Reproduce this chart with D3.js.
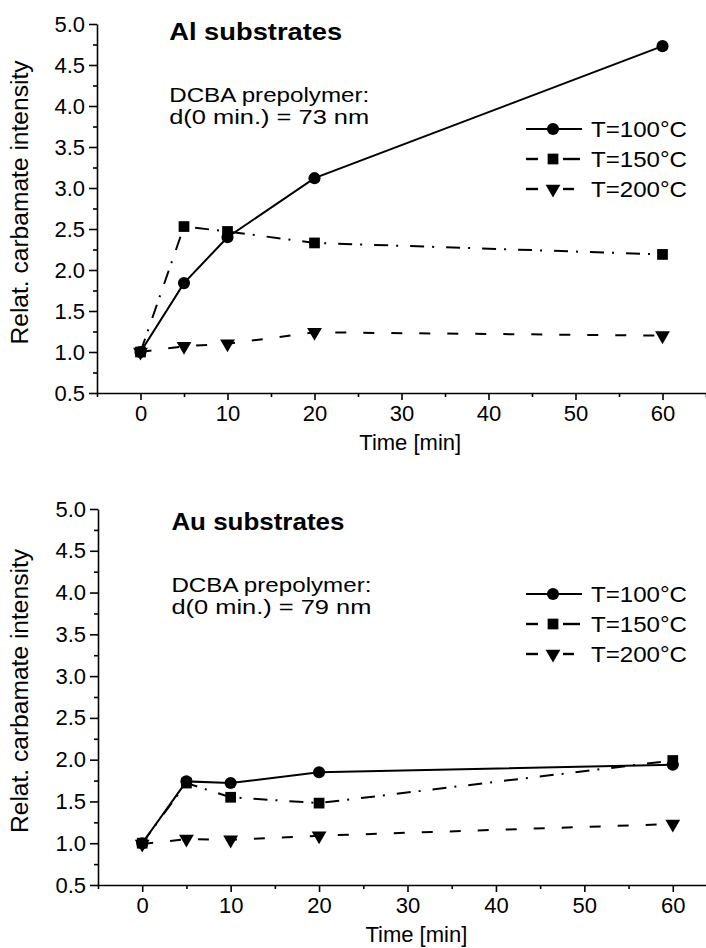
<!DOCTYPE html>
<html>
<head>
<meta charset="utf-8">
<script src="https://cdn.jsdelivr.net/npm/d3@7"></script>
<style>
  body { margin: 0; background: #fff; }
  text { font-family: "Liberation Sans", Arial, sans-serif; fill: #000; }
</style>
</head>
<body>
<div id="chart"></div>
<script>
// data
const times = [0, 5, 10, 20, 60]
const seriesNames = ["T=100°C", "T=150°C", "T=200°C"]

const alT100 = [1.0, 1.84, 2.40, 3.12, 4.73]
const alT150 = [1.0, 2.53, 2.47, 2.33, 2.19]
const alT200 = [1.0, 1.07, 1.10, 1.24, 1.20]

const auT100 = [1.0, 1.74, 1.72, 1.85, 1.94]
const auT150 = [1.0, 1.72, 1.55, 1.48, 1.99]
const auT200 = [0.99, 1.05, 1.04, 1.09, 1.23]

const xTicks = [0, 10, 20, 30, 40, 50, 60]
const xMinorTicks = [-5, 5, 15, 25, 35, 45, 55, 65]
const yTicks = [0.5, 1.0, 1.5, 2.0, 2.5, 3.0, 3.5, 4.0, 4.5, 5.0]
const yMinorTicks = [0.75, 1.25, 1.75, 2.25, 2.75, 3.25, 3.75, 4.25, 4.75]

const dashes = [null, "14,8,2,12", "11,17"]
const symbols = [d3.symbolCircle, d3.symbolSquare, d3.symbolTriangle]
const symbolSizes = [115, 115, 95]

const width = 706
const height = 948

const svg = d3.select("#chart")
    .append("svg")
    .attr("width", width)
    .attr("height", height)

function drawPanel(opts) {
    const { title, thickness, series, box, legendTop, noteShift } = opts

    const xScale = d3.scaleLinear()
        .domain([-5, 65])
        .range([box.left, box.right])

    const yScale = d3.scaleLinear()
        .domain([0.5, 5.0])
        .range([box.bottom, box.top])

    const g = svg.append("g")

    // y axis
    g.append("g")
        .attr("transform", `translate(${box.left},0)`)
        .call(d3.axisLeft(yScale).tickValues(yMinorTicks).tickSize(4).tickFormat(""))
        .call(a => a.select(".domain").remove())
    const yAxis = g.append("g")
        .attr("transform", `translate(${box.left},0)`)
        .call(d3.axisLeft(yScale).tickValues(yTicks).tickSize(8).tickSizeOuter(0).tickPadding(4)
            .tickFormat(d3.format(".1f")))
    yAxis.selectAll("text").style("font-size", "22px")

    // x axis
    g.append("g")
        .attr("transform", `translate(0,${box.bottom})`)
        .call(d3.axisBottom(xScale).tickValues(xMinorTicks).tickSize(4).tickFormat(""))
        .call(a => a.select(".domain").remove())
    const xAxis = g.append("g")
        .attr("transform", `translate(0,${box.bottom})`)
        .call(d3.axisBottom(xScale).tickValues(xTicks).tickSize(7).tickSizeOuter(0).tickPadding(5))
    xAxis.selectAll("text").style("font-size", "22px")

    g.selectAll(".domain, .tick line").attr("stroke", "#000").attr("stroke-width", 1.6)

    // axis titles
    g.append("text")
        .attr("x", xScale(31))
        .attr("y", box.bottom + 57)
        .attr("text-anchor", "middle")
        .style("font-size", "22px")
        .text("Time [min]")

    g.append("text")
        .attr("transform", `translate(28,${(box.top + box.bottom) / 2 - 6}) rotate(-90)`)
        .attr("text-anchor", "middle")
        .attr("textLength", 284)
        .attr("lengthAdjust", "spacingAndGlyphs")
        .style("font-size", "23px")
        .text("Relat. carbamate intensity")

    // annotations
    g.append("text")
        .attr("x", xScale(3.3))
        .attr("y", box.top + 16 + noteShift)
        .attr("textLength", 173)
        .attr("lengthAdjust", "spacingAndGlyphs")
        .style("font-size", "24px")
        .style("font-weight", "bold")
        .text(title)

    g.append("text")
        .attr("x", xScale(3.3))
        .attr("y", box.top + 78 + noteShift)
        .attr("textLength", 200)
        .attr("lengthAdjust", "spacingAndGlyphs")
        .style("font-size", "21px")
        .text("DCBA prepolymer:")
    g.append("text")
        .attr("x", xScale(3.3))
        .attr("y", box.top + 100 + noteShift)
        .attr("textLength", 200)
        .attr("lengthAdjust", "spacingAndGlyphs")
        .style("font-size", "21px")
        .text(`d(0 min.) = ${thickness} nm`)

    // lines and markers
    const line = d3.line()
        .x((d, i) => xScale(times[i]))
        .y(d => yScale(d))

    series.forEach((values, k) => {
        g.append("path")
            .datum(values)
            .attr("d", line)
            .attr("fill", "none")
            .attr("stroke", "#000")
            .attr("stroke-width", 2)
            .attr("stroke-dasharray", dashes[k])
    })

    series.forEach((values, k) => {
        g.selectAll(null)
            .data(values)
            .join("path")
            .attr("d", d3.symbol().type(symbols[k]).size(symbolSizes[k]))
            .attr("transform", (d, i) => `translate(${xScale(times[i])},${yScale(d)})${k === 2 ? " rotate(180)" : ""}`)
            .attr("fill", "#000")
    })

    // legend
    const legend = g.append("g")
        .attr("transform", `translate(526,${legendTop})`)
    seriesNames.forEach((name, k) => {
        const row = legend.append("g")
            .attr("transform", `translate(0,${k * 30})`)
        if (k === 0) {
            row.append("line").attr("x1", 0).attr("x2", 56)
                .attr("stroke", "#000").attr("stroke-width", 2)
        } else {
            row.append("line").attr("x1", 0).attr("x2", 12)
                .attr("stroke", "#000").attr("stroke-width", 2.4)
            row.append("line").attr("x1", 37).attr("x2", k === 1 ? 54 : 48)
                .attr("stroke", "#000").attr("stroke-width", 2.4)
        }
        row.append("path")
            .attr("d", d3.symbol().type(symbols[k]).size(symbolSizes[k]))
            .attr("transform", `translate(27,0)${k === 2 ? " rotate(180)" : ""}`)
            .attr("fill", "#000")
        row.append("text")
            .attr("x", 65)
            .attr("y", 8)
            .attr("textLength", 96)
            .attr("lengthAdjust", "spacingAndGlyphs")
            .style("font-size", "22px")
            .text(name)
    })
}

drawPanel({
    title: "Al substrates",
    thickness: 73,
    series: [alT100, alT150, alT200],
    box: { left: 97, right: 706, top: 24, bottom: 393 },
    legendTop: 129,
    noteShift: 0
})

drawPanel({
    title: "Au substrates",
    thickness: 79,
    series: [auT100, auT150, auT200],
    box: { left: 98, right: 717, top: 509, bottom: 885 },
    legendTop: 594,
    noteShift: 5
})
</script>
</body>
</html>
